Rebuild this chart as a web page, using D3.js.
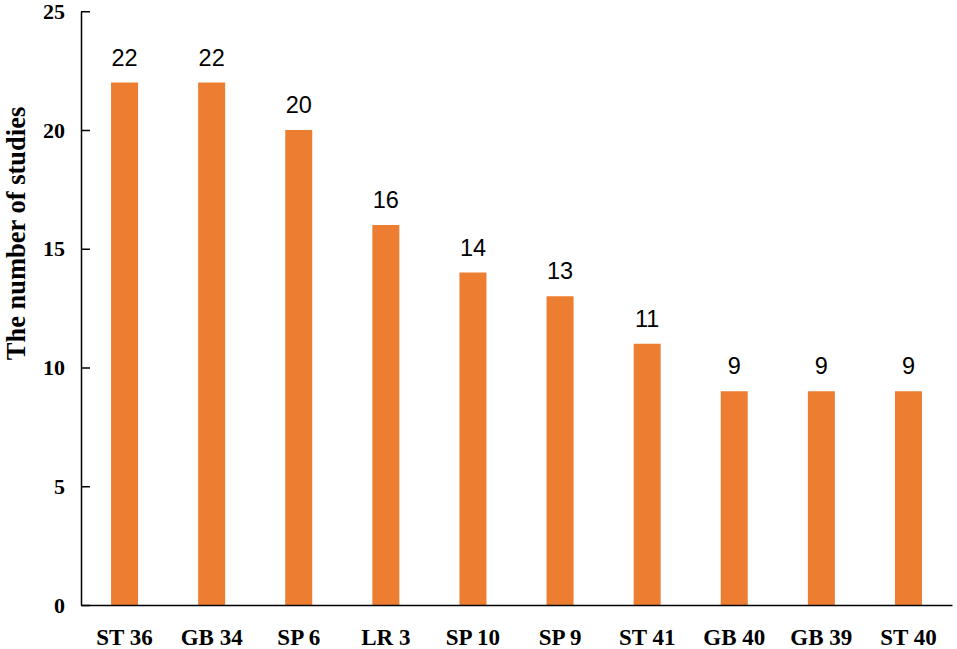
<!DOCTYPE html>
<html>
<head>
<meta charset="utf-8">
<script src="https://cdn.jsdelivr.net/npm/d3@7"></script>
<style>
  html, body { margin: 0; padding: 0; background: #fff; }
  svg { display: block; }
</style>
</head>
<body>
<svg id="chart" width="957" height="649"></svg>
<script>
const categories = ["ST 36", "GB 34", "SP 6", "LR 3", "SP 10", "SP 9", "ST 41", "GB 40", "GB 39", "ST 40"];
const studies = [22, 22, 20, 16, 14, 13, 11, 9, 9, 9];
const yTicks = [0, 5, 10, 15, 20, 25];
const yTitle = "The number of studies";

const svg = d3.select("#chart");
const plotLeft = 81, plotRight = 952, plotTop = 11.25, plotBottom = 605;

const x = d3.scaleBand().domain(categories).range([plotLeft, plotRight])
  .paddingInner(0.69).paddingOuter(0.345);
const y = d3.scaleLinear().domain([0, 25]).range([plotBottom, plotTop]);

// bars
svg.append("g").selectAll("rect").data(categories).join("rect")
  .attr("x", d => x(d))
  .attr("y", (d, i) => y(studies[i]))
  .attr("width", x.bandwidth())
  .attr("height", (d, i) => y(0) - y(studies[i]))
  .attr("fill", "#ED7D31");

// value labels
svg.append("g").selectAll("text").data(categories).join("text")
  .attr("x", d => x(d) + x.bandwidth() / 2)
  .attr("y", (d, i) => y(studies[i]) - 17)
  .attr("text-anchor", "middle")
  .attr("font-family", "Liberation Sans, Arial, sans-serif")
  .attr("font-size", 23.5)
  .attr("fill", "#000")
  .text((d, i) => studies[i]);

// y axis
const yAxis = d3.axisLeft(y).tickValues(yTicks).tickSizeInner(-9).tickSizeOuter(0).tickPadding(16);
const gy = svg.append("g").attr("transform", `translate(${plotLeft},0)`).call(yAxis);
gy.select(".domain").attr("stroke", "#000").attr("stroke-width", 1.5);
gy.selectAll(".tick line").attr("stroke", "#000").attr("stroke-width", 1.5);
gy.selectAll(".tick text")
  .attr("font-family", "Liberation Serif, 'Times New Roman', serif")
  .attr("font-weight", "bold")
  .attr("font-size", 22)
  .attr("fill", "#000");

// x axis
const xAxis = d3.axisBottom(x).tickSize(0).tickPadding(24);
const gx = svg.append("g").attr("transform", `translate(0,${plotBottom})`).call(xAxis);
gx.select(".domain").attr("stroke", "#000").attr("stroke-width", 1.5);
gx.selectAll(".tick text")
  .attr("font-family", "Liberation Serif, 'Times New Roman', serif")
  .attr("font-weight", "bold")
  .attr("font-size", 23)
  .attr("fill", "#000");

// y title
svg.append("text")
  .attr("transform", `translate(25,233.5) rotate(-90)`)
  .attr("text-anchor", "middle")
  .attr("font-family", "Liberation Serif, 'Times New Roman', serif")
  .attr("font-weight", "bold")
  .attr("font-size", 26.5)
  .attr("fill", "#000")
  .text(yTitle);
</script>
</body>
</html>
